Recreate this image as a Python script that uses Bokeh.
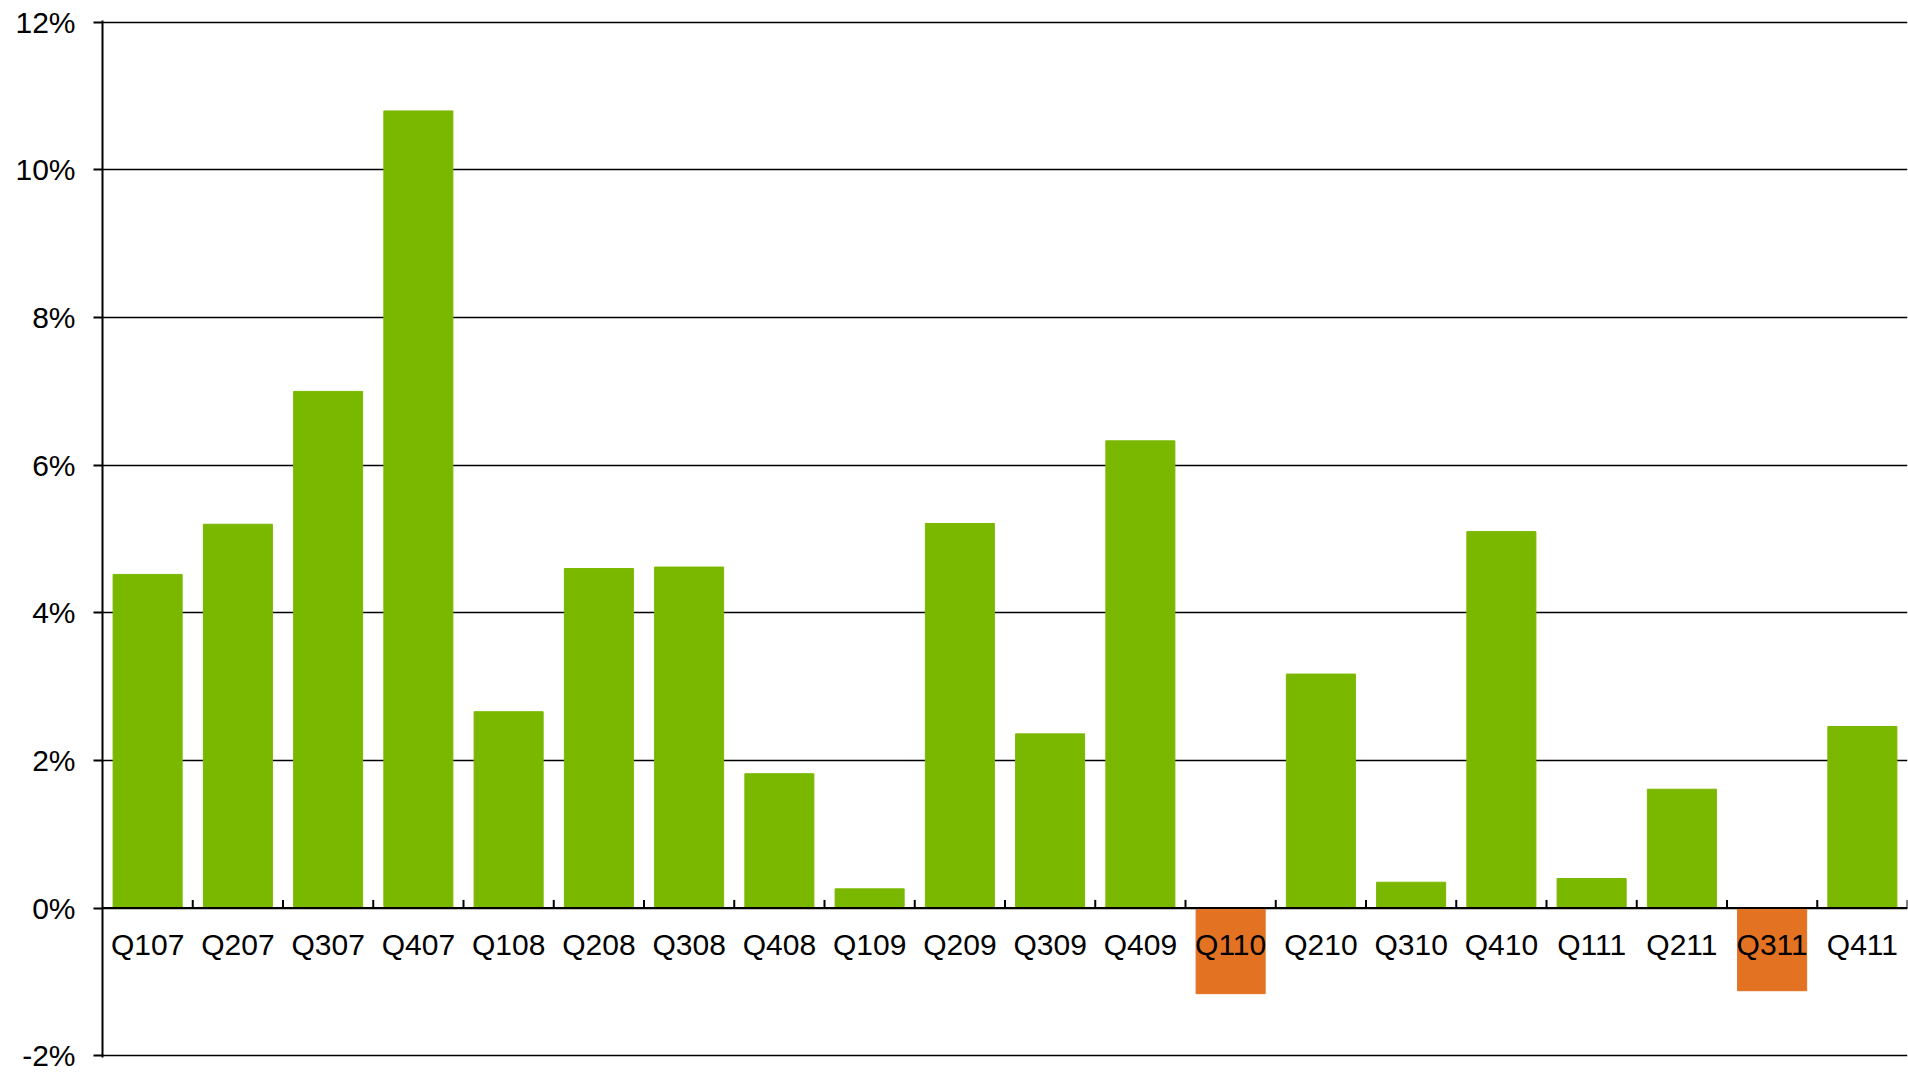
from bokeh.plotting import figure
from bokeh.models import (ColumnDataSource, FactorRange, Range1d, FixedTicker,
                          PrintfTickFormatter, Span)
from bokeh.transform import dodge
from bokeh.core.properties import value
from bokeh.embed import file_html
from bokeh.resources import INLINE

# Quarter-on-quarter growth, in percent
quarters = ["Q107", "Q207", "Q307", "Q407", "Q108", "Q208", "Q308", "Q408",
            "Q109", "Q209", "Q309", "Q409", "Q110", "Q210", "Q310", "Q410",
            "Q111", "Q211", "Q311", "Q411"]
growth = [4.52, 5.20, 7.00, 10.80, 2.66, 4.60, 4.62, 1.82,
          0.26, 5.21, 2.36, 6.33, -1.16, 3.17, 0.35, 5.10,
          0.40, 1.61, -1.12, 2.46]
y_ticks = [-2, 0, 2, 4, 6, 8, 10, 12]

GREEN = "#7ab800"
ORANGE = "#e37222"
FONT = "Liberation Sans"
PAD = 0.025  # keeps the top and bottom gridlines inside the frame

src = ColumnDataSource(dict(
    q=quarters,
    v=growth,
    color=[GREEN if g >= 0 else ORANGE for g in growth],
    zero=[0.0] * len(quarters),
    tick_top=[0.11] * len(quarters),
))

p = figure(
    x_range=FactorRange(factors=quarters, range_padding=0),
    y_range=Range1d(y_ticks[0] - PAD, y_ticks[-1] + PAD),
    width=1908, height=1072,
    min_border_left=102, min_border_right=1,
    min_border_top=20, min_border_bottom=15,
    x_axis_location=None,
    output_backend="svg", toolbar_location=None,
)
p.outline_line_color = None
p.background_fill_color = "white"
p.border_fill_color = "white"

# bars
p.vbar(x="q", top="v", bottom=0, width=0.765, color="color", source=src)

# zero baseline with category-boundary ticks
p.add_layout(Span(location=0, dimension="width", line_color="black", line_width=2))
p.segment(x0=dodge("q", 0.5, range=p.x_range), y0="zero",
          x1=dodge("q", 0.5, range=p.x_range), y1="tick_top",
          line_color="black", line_width=2, source=src)

# category labels sit just under the baseline, over any negative bar
p.text(x="q", y="zero", text="q", source=src,
       text_align="center", text_baseline="middle", y_offset=36,
       text_font=value(FONT), text_font_size="30px", text_color="black")

# y axis
yax = p.yaxis[0]
yax.ticker = FixedTicker(ticks=y_ticks)
yax.formatter = PrintfTickFormatter(format="%d%%")
yax.axis_line_color = "black"
yax.axis_line_width = 2
yax.major_tick_line_color = "black"
yax.major_tick_line_width = 2
yax.major_tick_out = 9
yax.major_tick_in = 0
yax.minor_tick_line_color = None
yax.major_label_text_font = FONT
yax.major_label_text_font_size = "30px"
yax.major_label_text_color = "black"
yax.major_label_standoff = 18

p.xgrid.grid_line_color = None
p.ygrid.ticker = FixedTicker(ticks=y_ticks)
p.ygrid.grid_line_color = "black"
p.ygrid.grid_line_width = 1.5

open("out.html", "w").write(file_html(p, INLINE))
